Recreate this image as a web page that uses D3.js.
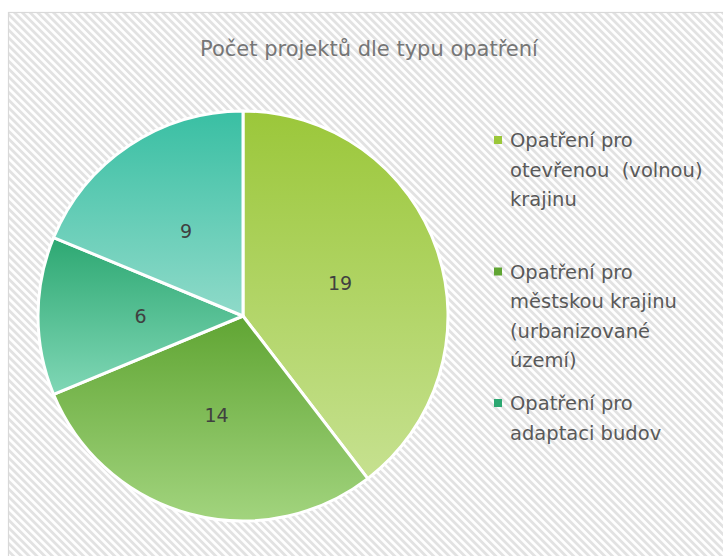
<!DOCTYPE html>
<html>
<head>
<meta charset="utf-8">
<script src="https://cdn.jsdelivr.net/npm/d3@7"></script>
<style>
  body { margin: 0; background: #fff; }
  text { font-family: "DejaVu Sans", sans-serif; }
</style>
</head>
<body>
<div id="main"></div>
<script>
const ctx = {
    w: 723,
    h: 556,
    cx: 243,
    cy: 316,
    r: 205
};

// data
const categories = [
    "Opatření pro otevřenou  (volnou) krajinu",
    "Opatření pro městskou krajinu (urbanizované území)",
    "Opatření pro adaptaci budov",
    "Ostatní opatření"
];
const values = [19, 14, 6, 9];
// legend lines as wrapped in the picture
const legendLines = [
    ["Opatření pro", "otevřenou  (volnou)", "krajinu"],
    ["Opatření pro", "městskou krajinu", "(urbanizované", "území)"],
    ["Opatření pro", "adaptaci budov"],
    ["Ostatní opatření"]
];
const title = "Počet projektů dle typu opatření";

// gradient stops per slice: top, bottom
const gradTop = ["#9bc73a", "#60a533", "#2da872", "#39bfa3"];
const gradBottom = ["#c6e190", "#a2d47e", "#80d7b6", "#8fdac9"];

function createViz() {
    const svg = d3.select("#main").append("svg")
        .attr("width", ctx.w)
        .attr("height", ctx.h);

    const defs = svg.append("defs");
    const pat = defs.append("pattern")
        .attr("id", "hatch")
        .attr("patternUnits", "userSpaceOnUse")
        .attr("width", 5.5)
        .attr("height", 5.5)
        .attr("patternTransform", "rotate(-45)");
    pat.append("rect").attr("width", 5.5).attr("height", 5.5).attr("fill", "#ffffff");
    pat.append("rect").attr("width", 2.8).attr("height", 5.5).attr("fill", "#e2e2e2");

    categories.forEach((c, i) => {
        const g = defs.append("linearGradient")
            .attr("id", "grad" + i)
            .attr("x1", 0).attr("y1", 0)
            .attr("x2", 0).attr("y2", 1);
        g.append("stop").attr("offset", "0%").attr("stop-color", gradTop[i]);
        g.append("stop").attr("offset", "100%").attr("stop-color", gradBottom[i]);
    });

    // chart area with hatch background
    svg.append("rect")
        .attr("x", 8.5)
        .attr("y", 12.5)
        .attr("width", 740)
        .attr("height", 560)
        .attr("fill", "url(#hatch)")
        .attr("stroke", "#d9d9d9")
        .attr("stroke-width", 1.2);

    svg.append("text")
        .attr("x", 369)
        .attr("y", 56)
        .attr("text-anchor", "middle")
        .attr("font-size", "21px")
        .attr("fill", "#767676")
        .text(title);

    const data = categories.map((c, i) => ({ name: c, value: values[i], idx: i }));
    const pie = d3.pie().sort(null).value(d => d.value);
    const arc = d3.arc().innerRadius(0).outerRadius(ctx.r);

    const pieG = svg.append("g")
        .attr("transform", `translate(${ctx.cx},${ctx.cy})`);

    pieG.selectAll("path")
        .data(pie(data))
        .enter().append("path")
        .attr("d", arc)
        .attr("fill", d => `url(#grad${d.data.idx})`)
        .attr("stroke", "#ffffff")
        .attr("stroke-width", 3)
        .attr("stroke-linejoin", "round");

    pieG.selectAll("text.lbl")
        .data(pie(data))
        .enter().append("text")
        .attr("class", "lbl")
        .attr("transform", d => `translate(${arc.centroid(d)})`)
        .attr("text-anchor", "middle")
        .attr("dy", "0.37em")
        .attr("font-size", "19px")
        .attr("fill", "#404040")
        .text(d => d.data.value);

    // legend (last entry does not fit, as in the original)
    const lineH = 29.5;
    const slotH = 131.5;
    const legendMaxY = 470;
    const legend = svg.append("g");
    legendLines.forEach((lines, i) => {
        const y0 = 140 + i * slotH;
        if (y0 + (lines.length - 1) * lineH > legendMaxY) return;
        const eg = legend.append("g");
        eg.append("rect")
            .attr("x", 494)
            .attr("y", y0 - 4)
            .attr("width", 8)
            .attr("height", 8)
            .attr("fill", gradTop[i]);
        eg.selectAll("text")
            .data(lines)
            .enter().append("text")
            .attr("x", 510)
            .attr("y", (d, j) => y0 + j * lineH)
            .attr("dy", "0.37em")
            .attr("font-size", "19.5px")
            .attr("fill", "#595959")
            .style("white-space", "pre")
            .text(d => d);
    });
}

createViz();
</script>
</body>
</html>
